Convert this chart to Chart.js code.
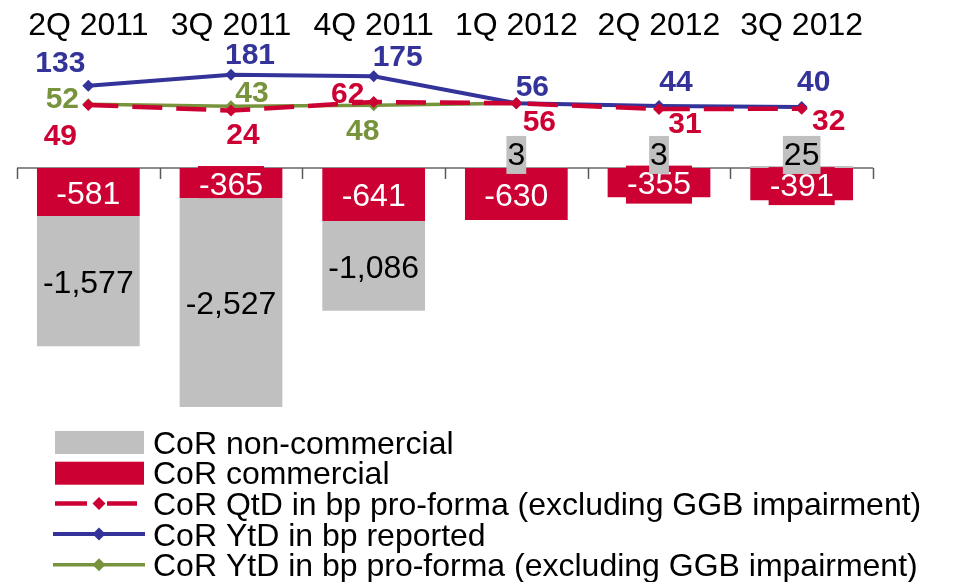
<!DOCTYPE html>
<html lang="en">
<head>
    <meta charset="UTF-8">
    <title>Cost of Risk</title>
    <style>
        * { margin: 0; padding: 0; box-sizing: border-box; }
        body { background: #ffffff; }
        .wrap { width: 955px; height: 582px; }
    </style>
</head>
<body>
    <div class="wrap">
        <canvas id="corChart" width="955" height="582"></canvas>
    </div>

    <script src="https://cdn.jsdelivr.net/npm/chart.js@4.4.0/dist/chart.umd.min.js"></script>
    <script>
        // Data
        const quarters = ['2Q 2011', '3Q 2011', '4Q 2011', '1Q 2012', '2Q 2012', '3Q 2012'];
        const corCommercial = [-581, -365, -641, -630, -355, -391];
        const corNonCommercial = [-1577, -2527, -1086, 3, 3, 25];
        const qtdProForma = [49, 24, 62, 56, 31, 32];
        const ytdReported = [133, 181, 175, 56, 44, 40];
        const ytdProForma = [52, 43, 48, 56, null, null];

        // Colors
        const RED = '#CC0033';
        const GREY = '#C0C0C0';
        const BLUE = '#333399';
        const GREEN = '#77933C';
        const FONT = '"Liberation Sans", Arial, sans-serif';

        // where the line labels sit relative to their point (px), null = no label
        const qtdLabelPos = [[-28, 31], [12, 24], [-26, -8], [23, 18], [26, 15], [27, 12]];
        const repLabelPos = [[-28, -23], [19, -20], [24, -19], [16, -17], [17, -24], [12, -25]];
        const pfLabelPos = [[-26, -5], [21, -14], [-11, 26], null, null, null];

        Chart.defaults.font.family = FONT;

        // zero line with category separators
        const baseline = {
            id: 'baseline',
            beforeDatasetsDraw(chart) {
                const ctx = chart.ctx;
                const x = chart.scales.x;
                const zeroY = chart.scales.y.getPixelForValue(0);
                const step = x.getPixelForValue(1) - x.getPixelForValue(0);
                ctx.save();
                ctx.strokeStyle = '#8c8c8c';
                ctx.lineWidth = 2;
                ctx.beginPath();
                ctx.moveTo(chart.chartArea.left, zeroY);
                ctx.lineTo(chart.chartArea.right, zeroY);
                ctx.stroke();
                ctx.strokeStyle = '#595959';
                ctx.lineWidth = 1.5;
                for (let i = 0; i <= quarters.length; i++) {
                    const px = Math.round(x.getPixelForValue(0) - step / 2 + i * step) + 0.5;
                    ctx.beginPath();
                    ctx.moveTo(px, zeroY);
                    ctx.lineTo(px, zeroY + 11);
                    ctx.stroke();
                }
                ctx.restore();
            }
        };

        // value labels for bars and lines
        const valueLabels = {
            id: 'valueLabels',
            afterDatasetsDraw(chart) {
                const ctx = chart.ctx;
                const zeroY = chart.scales.y.getPixelForValue(0);
                chart.data.datasets.forEach((ds, i) => {
                    const meta = chart.getDatasetMeta(i);
                    meta.data.forEach((el, j) => {
                        const v = ds.data[j];
                        if (v === null || v === undefined) return;
                        ctx.save();
                        ctx.textAlign = 'center';
                        ctx.textBaseline = 'middle';
                        if (ds.type === 'bar') {
                            const text = v.toLocaleString('en-US');
                            ctx.font = '32px ' + FONT;
                            const cy = v > 0 ? zeroY - 13 : (el.y + el.base) / 2 + 2;
                            const w = ctx.measureText(text).width;
                            let top = cy - 19;
                            let bottom = cy + 19;
                            // don't paint the box over the bar stacked below this one
                            const below = chart.data.datasets.find(d => d.type === 'bar' && d !== ds && d.data[j] < 0 && i === 0);
                            if (below && v < 0) bottom = Math.min(bottom, el.y);
                            ctx.fillStyle = ds.backgroundColor;
                            ctx.fillRect(el.x - w / 2 - 1, top, w + 2, bottom - top);
                            ctx.fillStyle = ds.labelColor;
                            ctx.fillText(text, el.x, cy + 1);
                        } else {
                            const off = ds.labelPos[j];
                            if (!off) { ctx.restore(); return; }
                            ctx.font = 'bold 30px ' + FONT;
                            ctx.fillStyle = ds.borderColor;
                            ctx.fillText(String(v), el.x + off[0], el.y + off[1] + 1);
                        }
                        ctx.restore();
                    });
                });
            }
        };

        // legend stacked at the bottom left
        const legendOrder = [1, 0, 2, 3, 4];
        const bottomLegend = {
            id: 'bottomLegend',
            afterDraw(chart) {
                const ctx = chart.ctx;
                const rowH = 30.7;
                const firstY = 442;
                ctx.save();
                legendOrder.forEach((idx, r) => {
                    const ds = chart.data.datasets[idx];
                    const cy = firstY + r * rowH;
                    if (ds.type === 'bar') {
                        ctx.fillStyle = ds.backgroundColor;
                        ctx.fillRect(55, cy - 11, 89, 23);
                    } else {
                        ctx.strokeStyle = ds.borderColor;
                        ctx.lineWidth = ds.borderWidth;
                        ctx.beginPath();
                        if (ds.borderDash && ds.borderDash.length) {
                            ctx.moveTo(55, cy); ctx.lineTo(87, cy);
                            ctx.moveTo(107, cy); ctx.lineTo(137, cy);
                        } else {
                            ctx.moveTo(53, cy); ctx.lineTo(145, cy);
                        }
                        ctx.stroke();
                        ctx.fillStyle = ds.borderColor;
                        ctx.beginPath();
                        ctx.moveTo(99, cy - 6.5);
                        ctx.lineTo(105.5, cy);
                        ctx.lineTo(99, cy + 6.5);
                        ctx.lineTo(92.5, cy);
                        ctx.closePath();
                        ctx.fill();
                    }
                    ctx.fillStyle = '#000000';
                    ctx.font = '32px ' + FONT;
                    ctx.textAlign = 'left';
                    ctx.textBaseline = 'alphabetic';
                    ctx.fillText(ds.label, 153, cy + 11.5);
                });
                ctx.restore();
            }
        };

        function lineSet(label, data, color, width, dash, labelPos) {
            return {
                type: 'line',
                label: label,
                data: data,
                yAxisID: 'y1',
                borderColor: color,
                backgroundColor: color,
                borderWidth: width,
                borderDash: dash,
                pointStyle: 'rectRot',
                pointRadius: 6,
                pointBorderWidth: 0,
                pointBackgroundColor: color,
                tension: 0,
                fill: false,
                labelPos: labelPos
            };
        }

        const qtdLine = lineSet('CoR QtD in bp pro-forma (excluding GGB impairment)', qtdProForma, RED, 4.5, [30, 14], qtdLabelPos);
        qtdLine.order = -3;
        const repLine = lineSet('CoR YtD in bp reported', ytdReported, BLUE, 4, [], repLabelPos);
        repLine.order = -2;
        const pfLine = lineSet('CoR YtD in bp pro-forma (excluding GGB impairment)', ytdProForma, GREEN, 3.5, [], pfLabelPos);
        pfLine.order = -1;

        new Chart(document.getElementById('corChart'), {
            data: {
                labels: quarters,
                datasets: [
                    {
                        type: 'bar',
                        label: 'CoR commercial',
                        data: corCommercial,
                        backgroundColor: RED,
                        labelColor: '#ffffff',
                        yAxisID: 'y',
                        barPercentage: 0.72,
                        categoryPercentage: 1
                    },
                    {
                        type: 'bar',
                        label: 'CoR non-commercial',
                        data: corNonCommercial,
                        backgroundColor: GREY,
                        labelColor: '#000000',
                        yAxisID: 'y',
                        barPercentage: 0.72,
                        categoryPercentage: 1
                    },
                    qtdLine,
                    repLine,
                    pfLine
                ]
            },
            options: {
                responsive: false,
                animation: false,
                events: [],
                layout: { padding: { left: 17, right: 82, top: 7, bottom: 162 } },
                plugins: {
                    legend: { display: false },
                    tooltip: { enabled: false }
                },
                scales: {
                    x: {
                        position: 'top',
                        stacked: true,
                        offset: true,
                        grid: { display: false, drawTicks: false },
                        border: { display: false },
                        ticks: { color: '#000000', padding: 0, font: { size: 32 }, maxRotation: 0 }
                    },
                    y: { display: false, stacked: true, min: -3050, max: 1483 },
                    y1: { display: false, min: -1333, max: 310 }
                }
            },
            plugins: [baseline, valueLabels, bottomLegend]
        });
    </script>
</body>
</html>
